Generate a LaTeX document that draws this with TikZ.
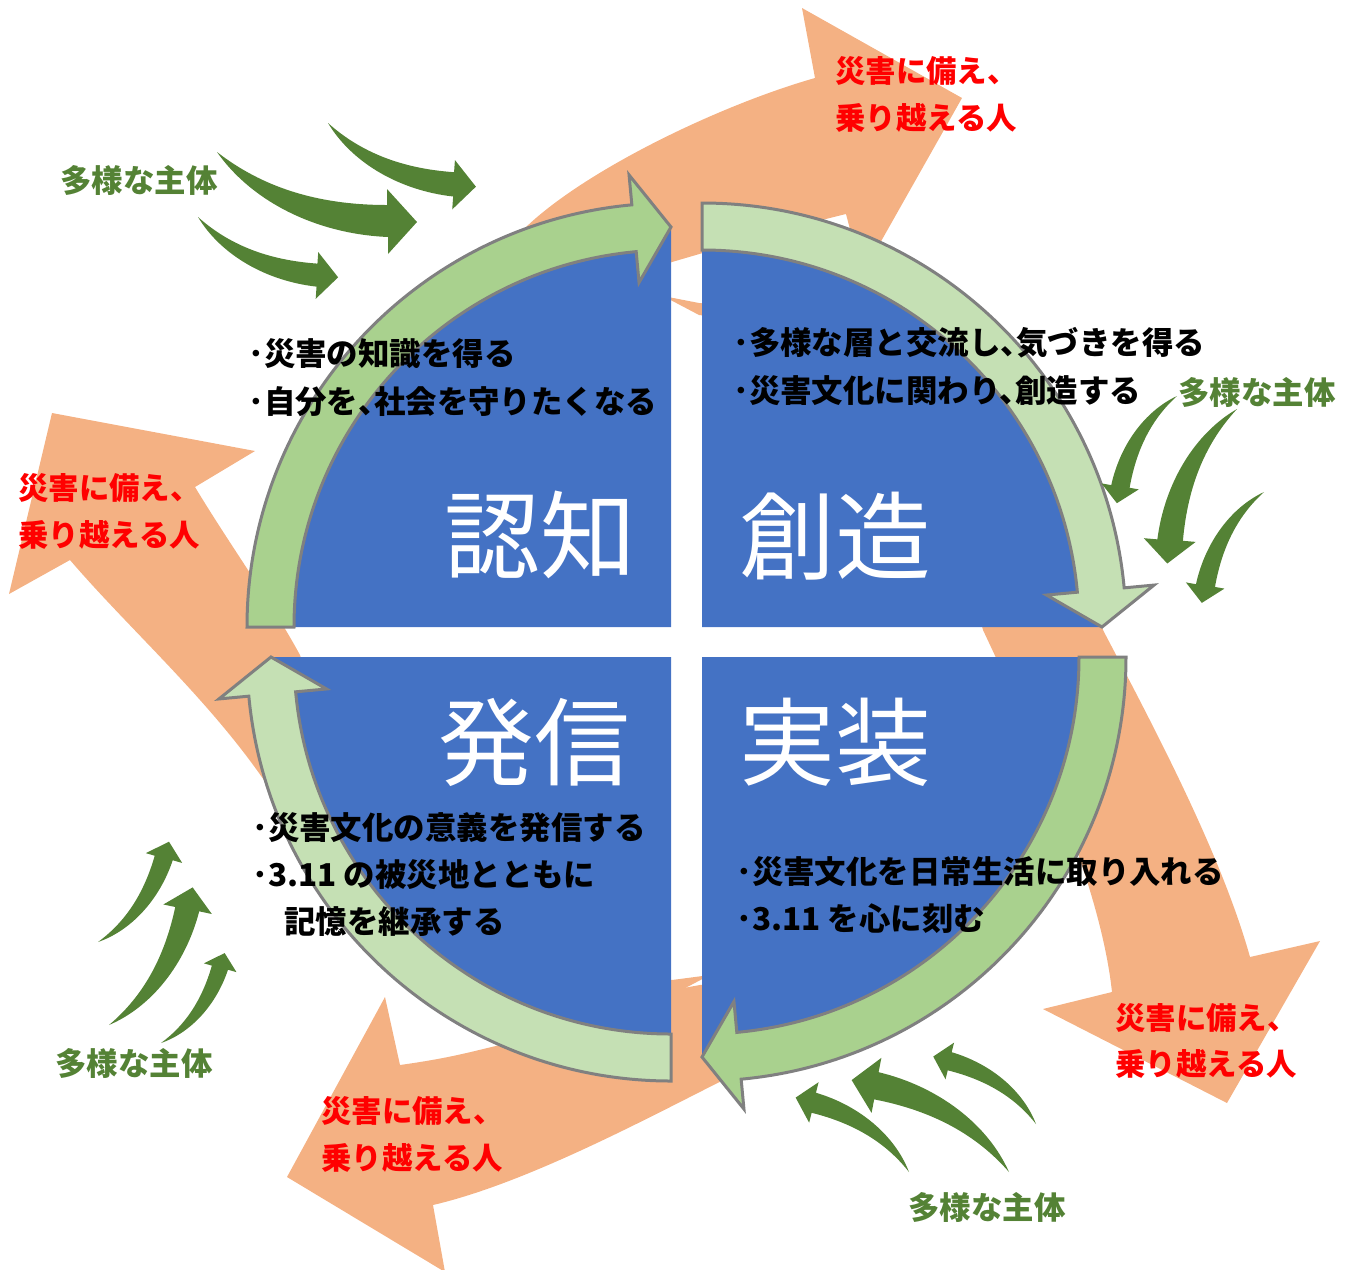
\documentclass[tikz,border=0pt]{standalone}
\usepackage{fontspec}
\usepackage{xcolor}
\newfontfamily\jp[RawFeature=+halt]{Noto Sans CJK JP}

\definecolor{quadblue}{HTML}{4472C4}
\definecolor{bandA}{HTML}{A9D18E}
\definecolor{bandB}{HTML}{C5E0B4}
\definecolor{bandline}{HTML}{808080}
\definecolor{swirlorange}{HTML}{F4B183}
\definecolor{actorgreen}{HTML}{548235}
\definecolor{goalred}{HTML}{FF0000}

\tikzset{
  quad/.style={fill=quadblue},
  band/.style={draw=bandline, line width=0.06cm, line join=miter},
  swirl/.style={fill=swirlorange},
  body/.style={anchor=base west, inner sep=0pt, font=\jp\bfseries\fontsize{17.9}{21}\selectfont},
  biglabel/.style={text=white, inner sep=0pt, font=\jp\fontsize{54.5}{60}\selectfont},
  goal/.style={anchor=base west, inner sep=0pt, text=goalred, font=\jp\bfseries\fontsize{17.3}{21}\selectfont},
  actor/.style={anchor=base west, inner sep=0pt, text=actorgreen, font=\jp\bfseries\fontsize{17.9}{21}\selectfont},
  swoosh/.pic={
    \fill[actorgreen] (0,0) .. controls (45,35) and (100,53) .. (170,53) -- (170,37) -- (200,70)
      -- (171,102) -- (171,85) .. controls (100,82) and (35,50) .. (0,0) -- cycle;
  }
}

% block arc arrow round one quadrant: corner, start, head base, tip, fill
\newcommand\cyclearrow[5]{%
  \filldraw[band, fill=#5, shift={#1}]
    (#2:377) -- (#2:424) arc[start angle=#2, end angle=#3, radius=424]
    -- (#3:454) -- (#4:400) -- (#3:346) -- (#3:377)
    arc[start angle=#3, end angle=#2, radius=377] -- cycle;}

\begin{document}
\begin{tikzpicture}[x=0.02cm, y=-0.02cm]
    \useasboundingbox (0,0) rectangle (1349,1269);

    % outer swirl of orange arrows
    \fill[swirl] (360,612) .. controls (380,420) and (450,290) .. (525,228)
        .. controls (585,170) and (720,105) .. (815,78)
        -- (802,8) -- (962,98) -- (862,275) -- (846,214)
        .. controls (780,230) and (720,248) .. (672,262)
        .. controls (560,300) and (420,420) .. (360,612) -- cycle;
    \fill[swirl] (663,296) -- (699,303)
        .. controls (900,320) and (1060,480) .. (1103,630)
        .. controls (1150,720) and (1220,850) .. (1250,957)
        -- (1320,941) -- (1227,1103) -- (1043,1009) -- (1112,992)
        .. controls (1100,880) and (1030,730) .. (983,630)
        .. controls (950,500) and (850,330) .. (699,315) -- cycle;
    \fill[swirl] (1000,668) .. controls (1060,850) and (900,1020) .. (760,1062)
        .. controls (680,1100) and (540,1180) .. (433,1205)
        -- (445,1272) -- (287,1177) -- (385,997) -- (400,1065)
        .. controls (450,1058) and (470,1052) .. (500,1045)
        .. controls (560,1030) and (620,1005) .. (672,990) -- (700,985)
        .. controls (820,970) and (960,880) .. (1000,668) -- cycle;
    \fill[swirl] (710,975) -- (672,995)
        .. controls (500,1000) and (330,900) .. (268,786)
        .. controls (210,700) and (130,630) .. (70,560)
        -- (9,594) -- (52,413) -- (255,451) -- (195,487)
        .. controls (230,545) and (270,600) .. (300,655)
        .. controls (360,850) and (520,960) .. (672,980) -- cycle;

    % four quadrants
    \fill[quad] (671,627) -- ++(180:400) arc[start angle=180, end angle=270, radius=400] -- cycle;
    \fill[quad] (702,627) -- ++(270:400) arc[start angle=270, end angle=360, radius=400] -- cycle;
    \fill[quad] (702,657) -- ++(0:400) arc[start angle=0, end angle=90, radius=400] -- cycle;
    \fill[quad] (671,657) -- ++(90:400) arc[start angle=90, end angle=180, radius=400] -- cycle;

    % inner cycle
    \cyclearrow{(671,627)}{180}{264.7}{270}{bandA}
    \cyclearrow{(702,627)}{270}{354.7}{360}{bandB}
    \cyclearrow{(702,657)}{0}{84.7}{90}{bandA}
    \cyclearrow{(671,657)}{90}{174.7}{180}{bandB}

    % small green arrows
    \pic[rotate=-4, scale=0.76] at (328,123) {swoosh};
    \pic at (217,152) {swoosh};
    \pic[rotate=-4, scale=0.72] at (198,217) {swoosh};

    \pic[rotate=-100, scale=0.58] at (1177,396) {swoosh};
    \pic[rotate=-95, scale=0.8] at (1237,409) {swoosh};
    \pic[rotate=-100, scale=0.6] at (1264,492) {swoosh};

    \pic[rotate=166, scale=0.64] at (909,1172) {swoosh};
    \pic[rotate=169, scale=0.86] at (1009,1172) {swoosh};
    \pic[rotate=166, scale=0.58] at (1036,1124) {swoosh};

    \pic[rotate=74, scale=0.58] at (98,942) {swoosh};
    \pic[rotate=78, scale=0.76] at (109,1025) {swoosh};
    \pic[rotate=74, scale=0.52] at (161,1043) {swoosh};

    % quadrant titles
    \node[biglabel] (ninchi) at (540,535) {認知};
    \node[biglabel] (souzou) at (835,536) {創造};
    \node[biglabel] (jissou) at (835,742) {実装};
    \node[biglabel] (hasshin) at (534,742) {発信};

    % bullet texts
    \node[body] (ninchi-a) at (248,365) {･災害の知識を得る};
    \node[body] (ninchi-b) at (248,413) {･自分を、社会を守りたくなる};
    \node[body] (souzou-a) at (733,354) {･多様な層と交流し、気づきを得る};
    \node[body] (souzou-b) at (733,402) {･災害文化に関わり、創造する};
    \node[body] (jissou-a) at (736,883) {･災害文化を日常生活に取り入れる};
    \node[body] (jissou-b) at (736,930) {･3.11 を心に刻む};
    \node[body] (hasshin-a) at (252,839) {･災害文化の意義を発信する};
    \node[body] (hasshin-b) at (252,886) {･3.11 の被災地とともに};
    \node[body] (hasshin-c) at (284,933) {記憶を継承する};

    % goals on the orange arrows
    \node[goal] (goal-top-a) at (835,82) {災害に備え、};
    \node[goal] (goal-top-b) at (835,129) {乗り越える人};
    \node[goal] (goal-left-a) at (18,499) {災害に備え、};
    \node[goal] (goal-left-b) at (18,546) {乗り越える人};
    \node[goal] (goal-bottom-a) at (321,1122) {災害に備え、};
    \node[goal] (goal-bottom-b) at (321,1169) {乗り越える人};
    \node[goal] (goal-right-a) at (1115,1029) {災害に備え、};
    \node[goal] (goal-right-b) at (1115,1075) {乗り越える人};

    % actors
    \node[actor] (actor-tl) at (60,192) {多様な主体};
    \node[actor] (actor-tr) at (1178,404) {多様な主体};
    \node[actor] (actor-bl) at (55,1075) {多様な主体};
    \node[actor] (actor-br) at (908,1219) {多様な主体};
\end{tikzpicture}
\end{document}
